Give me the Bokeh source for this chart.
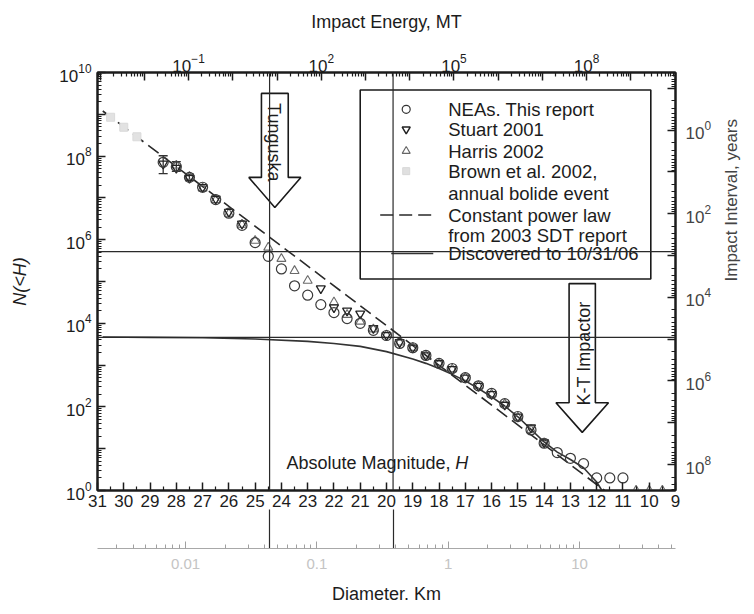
import math
from bokeh.plotting import figure
from bokeh.models import (Range1d, LogScale, LinearAxis, LogAxis, FixedTicker, Span,
                          CustomJSTickFormatter)
from bokeh.core.properties import value
from bokeh.embed import file_html
from bokeh.resources import INLINE

FONT = "Liberation Sans"
INK = "#1c1c1c"

# ---------------- data ----------------
H_LEFT, H_RIGHT = 31, 9
N_TOP = 1e10
N_BOTTOM = 1.0

h_ticks = list(range(9, 32))
h_minor = [h + 0.5 for h in range(9, 31)]

nea_H = [28.5, 28.0, 27.5, 27.0, 26.5, 26.0, 25.5, 25.0, 24.5, 24.0, 23.5, 23.0,
         22.5, 22.0, 21.5, 21.0, 20.5, 20.0, 19.5, 19.0, 18.5, 18.0, 17.5, 17.0,
         16.5, 16.0, 15.5, 15.0, 14.5, 14.0, 13.5, 13.0, 12.5, 12.0, 11.5, 11.0]
nea_N = [7.1e7, 5.6e7, 3.1e7, 1.8e7, 9.1e6, 4.3e6, 2.2e6, 8.5e5, 4.0e5, 2.0e5, 7.9e4, 4.7e4,
         2.8e4, 1.8e4, 1.3e4, 1.0e4, 6.8e3, 5.1e3, 3.3e3, 2.6e3, 1.7e3, 1.1e3, 830, 500,
         320, 210, 120, 59, 28, 13.5, 8.1, 5.9, 4.4, 2.0, 2.0, 2.0]
err_H = [28.5, 28.0, 27.5]
err_lo = [3.8e7, 4.3e7, 2.6e7]
err_hi = [1.02e8, 7.4e7, 3.7e7]

stuart_H = [28.5, 28.0, 27.5, 27.0, 26.5, 26.0, 25.5, 22.5, 22.0, 21.5, 21.0, 20.5,
            20.0, 19.5, 19.0, 18.5, 18.0, 17.5, 17.0, 16.5, 16.0, 15.5, 15.0, 14.5, 14.0]
stuart_N = [6.6e7, 5.2e7, 3.0e7, 1.8e7, 9.5e6, 4.6e6, 2.4e6, 6.8e4, 2.4e4, 2.0e4, 1.7e4, 7.6e3,
            5.2e3, 3.5e3, 2.6e3, 1.7e3, 1.1e3, 800, 500, 316, 200, 112, 58, 32, 14]

harris_H = [28.0, 27.5, 27.0, 26.5, 26.0, 25.5, 25.0, 24.5, 24.0, 23.5, 23.0, 22.0,
            21.5, 21.0, 20.5, 20.0, 19.5, 19.0, 18.5, 18.0, 17.5, 17.0, 16.5, 16.0,
            15.5, 15.0, 14.5, 14.0, 10.5, 10.0, 9.5]
harris_N = [6.0e7, 3.2e7, 1.7e7, 8.9e6, 4.2e6, 2.3e6, 9.5e5, 6.5e5, 3.5e5, 1.8e5, 1.05e5, 3.2e4,
            1.6e4, 1.1e4, 7.2e3, 5.2e3, 3.5e3, 2.6e3, 1.7e3, 1.1e3, 800, 500, 316, 200,
            117, 56, 28, 13.5, 1.0, 1.0, 1.0]

brown_H = [30.5, 30.0, 29.5]
brown_N = [8.5e8, 4.9e8, 2.9e8]

powerlaw_H = [30.8, 11.7]
powerlaw_N = [1.2e9, 1.0]

disc_H = [30.8, 29.0, 27.0, 25.0, 23.0, 22.0, 21.0, 20.0, 19.0, 18.5, 18.0, 17.5, 17.0,
          16.5, 16.0, 15.5, 15.0, 14.5, 14.0, 13.5, 13.0, 12.5, 12.0, 11.8]
disc_N = [4.7e3, 4.6e3, 4.5e3, 4.2e3, 3.7e3, 3.3e3, 2.8e3, 2.1e3, 1.4e3, 1.1e3, 830, 600, 420,
          275, 174, 105, 58, 29, 14.5, 8.3, 5.5, 3.5, 1.6, 1.0]

ref_H_lines = [24.45, 19.75]
ref_N_lines = [5.2e5, 4.6e3]

# secondary scales
ENERGY_RANGE = (10 ** -3.06, 10 ** 10.01)       # MT, at H=31 and H=9
DIAM_RANGE = (10 ** -2.67, 10 ** 1.73)          # km, at H=31 and H=9
INTERVAL_AT_N1 = 10 ** 8.62                     # years for N = 1
energy_labelled = [-1, 2, 5, 8]
diam_ticks = [0.01, 0.1, 1, 10]

legend_labels = ["NEAs. This report", "Stuart 2001", "Harris 2002", "Brown et al. 2002,",
                 "annual bolide event", "Constant power law", "from 2003 SDT report",
                 "Discovered to 10/31/06"]


def decades(lo, hi):
    return [10.0 ** k for k in range(lo, hi + 1)]


def minors(lo, hi):
    out = []
    for k in range(int(math.floor(math.log10(lo))) - 1, int(math.ceil(math.log10(hi))) + 1):
        for m in range(2, 10):
            v = m * 10.0 ** k
            if lo <= v <= hi:
                out.append(v)
    return out


p = figure(width=754, height=612, output_backend="svg", toolbar_location=None,
           x_axis_type=None, y_axis_type=None,
           x_range=Range1d(H_LEFT, H_RIGHT), y_range=Range1d(N_BOTTOM, N_TOP),
           min_border_left=97, min_border_right=79, min_border_top=72, min_border_bottom=122)
p.y_scale = LogScale()
p.outline_line_color = INK
p.outline_line_width = 2
p.background_fill_color = "white"
p.border_fill_color = "white"

interval_top = INTERVAL_AT_N1 / N_TOP
interval_bottom = INTERVAL_AT_N1 / N_BOTTOM
p.extra_x_ranges = {"energy": Range1d(*ENERGY_RANGE), "diam": Range1d(*DIAM_RANGE)}
p.extra_x_scales = {"energy": LogScale(), "diam": LogScale()}
p.extra_y_ranges = {"interval": Range1d(interval_bottom, interval_top)}
p.extra_y_scales = {"interval": LogScale()}


def style(ax, label_size="17px"):
    ax.major_label_text_font = FONT
    ax.major_label_text_font_size = label_size
    ax.major_label_text_color = INK
    ax.axis_label_text_font = FONT
    ax.axis_label_text_font_size = "18px"
    ax.axis_label_text_font_style = "normal"
    ax.axis_label_text_color = INK
    ax.axis_line_color = INK
    ax.axis_line_width = 2
    ax.major_tick_line_color = INK
    ax.minor_tick_line_color = INK
    ax.major_tick_line_width = 1.5
    ax.minor_tick_line_width = 1.2
    ax.major_tick_in = 8
    ax.major_tick_out = 0
    ax.minor_tick_in = 4
    ax.minor_tick_out = 0


# left: N(<H)
left = LogAxis(ticker=FixedTicker(ticks=decades(0, 10), minor_ticks=minors(N_BOTTOM, N_TOP)),
               axis_label="N(<H)")
style(left)
left.major_label_overrides = {10.0 ** k: "" for k in range(1, 10, 2)}
left.major_label_standoff = 6
left.axis_label_standoff = 26
left.axis_label_text_font_style = "italic"
p.add_layout(left, "left")

# right: impact interval
right = LogAxis(y_range_name="interval",
                ticker=FixedTicker(ticks=decades(-1, 8), minor_ticks=minors(interval_top, interval_bottom)),
                axis_label="Impact Interval, years")
style(right)
right.major_label_overrides = {10.0 ** k: "" for k in (-1, 1, 3, 5, 7)}
right.major_label_standoff = 10
right.axis_label_standoff = 17
right.major_label_text_color = "#444444"
right.axis_label_text_color = "#444444"
right.axis_label_text_font_size = "17px"
try:
    right.axis_label_orientation = math.pi / 2
except Exception:
    pass
p.add_layout(right, "right")

# top: impact energy
top = LogAxis(x_range_name="energy",
              ticker=FixedTicker(ticks=decades(-3, 10), minor_ticks=minors(*ENERGY_RANGE)),
              axis_label="Impact Energy, MT")
style(top)
top.major_label_overrides = {10.0 ** k: "" for k in range(-3, 11) if k not in energy_labelled}
top.major_label_standoff = 1
top.axis_label_standoff = 19
p.add_layout(top, "above")

# absolute magnitude axis (frame bottom)
hax = LinearAxis(ticker=FixedTicker(ticks=h_ticks, minor_ticks=h_minor))
style(hax)
hax.major_label_standoff = 4
p.add_layout(hax, "below")

# continuation of the two vertical reference lines below the magnitude labels
ext = LinearAxis(ticker=FixedTicker(ticks=ref_H_lines, minor_ticks=[]),
                 formatter=CustomJSTickFormatter(code="return ''"))
ext.axis_line_color = None
ext.major_tick_in = 0
ext.major_tick_out = 39
ext.minor_tick_in = 0
ext.minor_tick_out = 0
ext.major_tick_line_color = "#2a2a2a"
ext.major_tick_line_width = 1.2
ext.major_label_standoff = 0
ext.major_label_text_font_size = "0px"
p.add_layout(ext, "below")

# diameter axis (faint)
dax = LogAxis(x_range_name="diam",
              ticker=FixedTicker(ticks=diam_ticks, minor_ticks=minors(*DIAM_RANGE)),
              formatter=CustomJSTickFormatter(code="return tick.toString()"),
              axis_label="Diameter. Km")
style(dax, "15px")
dax.axis_line_color = "#a8a8a8"
dax.axis_line_width = 1
dax.major_tick_line_color = "#a0a0a0"
dax.minor_tick_line_color = "#a0a0a0"
dax.major_tick_line_width = 1
dax.minor_tick_line_width = 1
dax.major_tick_in = 7
dax.minor_tick_in = 4
dax.major_label_text_color = "#c4c4c4"
dax.major_label_standoff = 10
dax.axis_label_standoff = 12
p.add_layout(dax, "below")

# reference lines
for h in ref_H_lines:
    p.add_layout(Span(location=h, dimension="height", line_color="#2a2a2a", line_width=1.2))
for n in ref_N_lines:
    p.add_layout(Span(location=n, dimension="width", line_color="#2a2a2a", line_width=1.2))

# curves
p.line(disc_H, disc_N, line_color="#333333", line_width=1.6)
p.line(powerlaw_H, powerlaw_N, line_color="#2a2a2a", line_width=1.6, line_dash="13 6")

# points
p.scatter(brown_H, brown_N, marker="square", size=8, fill_color="#e2e2e2",
          line_color="#dadada")
p.segment(err_H, err_lo, err_H, err_hi, line_color="#333333", line_width=1.3)
p.scatter(err_H + err_H, err_lo + err_hi, marker="dash", size=9, line_color="#333333",
          line_width=1.3)
p.scatter(harris_H, harris_N, marker="triangle", size=9, fill_color=None,
          line_color="#6a6a6a", line_width=1.1)
p.scatter(stuart_H, stuart_N, marker="inverted_triangle", size=9, fill_color=None,
          line_color="#222222", line_width=1.3)
p.scatter(nea_H, nea_N, marker="circle", size=10, fill_color=None,
          line_color="#3a3a3a", line_width=1.2)


# arrows (Tunguska, K-T impactor)
def arrow(hc, shaft_half, head_half, top_log, base_log, tip_log):
    xs = [hc + shaft_half, hc - shaft_half, hc - shaft_half, hc - head_half, hc,
          hc + head_half, hc + shaft_half]
    ys = [10 ** v for v in (top_log, top_log, base_log, base_log, tip_log, base_log, base_log)]
    p.patch(xs, ys, fill_color=None, line_color="#1a1a1a", line_width=1.6)


arrow(24.25, 0.51, 0.99, 9.50, 7.49, 6.77)
arrow(12.55, 0.50, 1.00, 4.95, 2.10, 1.39)

txt = dict(text_font=value(FONT), text_font_size=value("18px"), text_color=INK,
           text_baseline="middle")
p.text(x=[24.27], y=[10 ** 8.33], text=["Tunguska"], angle=-math.pi / 2,
       text_align="center", **txt)
p.text(x=[12.50], y=[10 ** 3.28], text=["K-T Impactor"], angle=math.pi / 2,
       text_align="center", **txt)
p.text(x=[23.81], y=[10 ** 0.65], text=["Absolute Magnitude, "], text_align="left", **txt)
p.text(x=[17.38], y=[10 ** 0.65], text=["H"], text_align="left",
       text_font_style="italic", **txt)

# legend (drawn by hand, box is transparent)
p.quad(left=[21.0], right=[9.94], top=[10 ** 9.58], bottom=[10 ** 5.06],
       fill_color=None, line_color="#1a1a1a", line_width=1.6)
leg_rows = [9.12, 8.64, 8.12, 7.64, 7.10, 6.59, 6.09, 5.67]
p.text(x=[17.65] * len(legend_labels), y=[10 ** v for v in leg_rows], text=legend_labels,
       text_align="left", text_font=value(FONT), text_font_size=value("18.5px"),
       text_color=INK, text_baseline="middle")
p.scatter([19.25], [10 ** leg_rows[0]], marker="circle", size=8, fill_color=None,
          line_color="#333333", line_width=1.2)
p.scatter([19.25], [10 ** leg_rows[1]], marker="inverted_triangle", size=8, fill_color=None,
          line_color="#222222", line_width=1.5)
p.scatter([19.25], [10 ** leg_rows[2]], marker="triangle", size=8, fill_color=None,
          line_color="#666666", line_width=1.1)
p.scatter([19.25], [10 ** leg_rows[3]], marker="square", size=7, fill_color="#e0e0e0",
          line_color="#d8d8d8")
p.line([20.24, 18.15], [10 ** leg_rows[5]] * 2, line_color="#2a2a2a", line_width=1.6,
       line_dash="13 6")
p.line([19.82, 18.22], [10 ** leg_rows[7]] * 2, line_color="#333333", line_width=1.6)

open("out.html", "w").write(file_html(p, INLINE))
